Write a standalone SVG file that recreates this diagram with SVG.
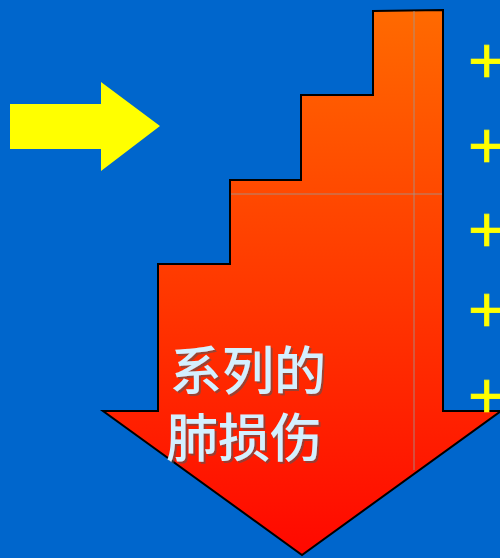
<svg xmlns="http://www.w3.org/2000/svg" width="500" height="558" viewBox="0 0 500 558">
<defs>
<linearGradient id="g" x1="0" y1="10" x2="0" y2="556" gradientUnits="userSpaceOnUse">
<stop offset="0" stop-color="#FF6A00"/>
<stop offset="1" stop-color="#FF0800"/>
</linearGradient>
<filter id="sh" x="-10%" y="-10%" width="130%" height="130%">
<feDropShadow dx="2" dy="2" stdDeviation="0.6" flood-color="#555" flood-opacity="0.6"/>
</filter>
<style>
.plus{font-family:"Liberation Sans",Arial,sans-serif;font-size:64px;fill:#FFFF00;stroke:#FFFF00;stroke-width:0.6}
.cj{font-family:"Noto Sans CJK SC","Liberation Sans",sans-serif;font-size:52px;fill:#D4F0FF;font-weight:500}
</style>
</defs>
<rect width="500" height="558" fill="#0066CC"/>
<g id="yellow-arrow">
<polygon points="10,104 101,104 101,82 160,126 101,171 101,149 10,149" fill="#FFFF00"/>
</g>
<g id="stair-arrow">
<polygon points="373,11 443,10 443,411 501,411 302,555 103,411 158,411 158,264 230,264 230,180 301,180 301,95 373,95" fill="url(#g)" stroke="#000" stroke-width="2" stroke-linejoin="miter"/>
<line x1="414" y1="11" x2="414" y2="470" stroke="#999" stroke-width="1" opacity="0.8"/>
<line x1="231" y1="194" x2="442" y2="194" stroke="#999" stroke-width="1" opacity="0.8"/>
<g class="cj" filter="url(#sh)">
<text x="170" y="390">系列的</text>
<text x="166" y="457">肺损伤</text>
</g>
</g>
<g id="plus-signs" class="plus">
<text x="468" y="83">+</text>
<text x="468" y="168">+</text>
<text x="468" y="252">+</text>
<text x="468" y="332">+</text>
<text x="468" y="418">+</text>
</g>
</svg>
